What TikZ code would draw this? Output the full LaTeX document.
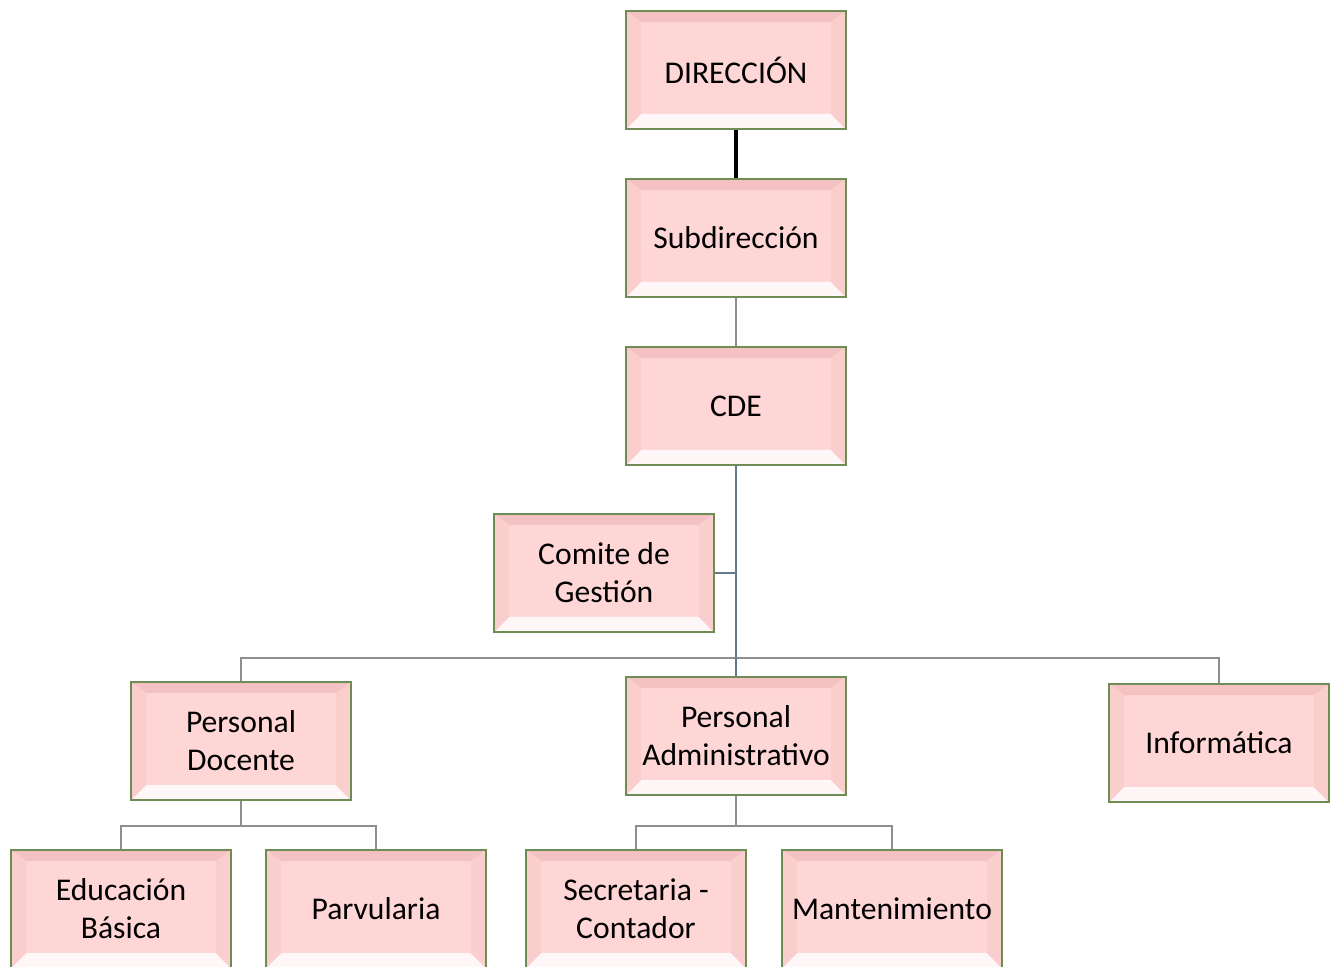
\documentclass[tikz,border=0pt]{standalone}
\usepackage{fontspec}
\setmainfont{Carlito}
\usepackage{xcolor}
\usepackage{tikz}

\definecolor{boxfill}{HTML}{FFD6D6}
\definecolor{boxtop}{HTML}{F4C2C2}
\definecolor{boxside}{HTML}{FBCECE}
\definecolor{boxbottom}{HTML}{FFF7F7}
\definecolor{boxline}{HTML}{6F8C55}
\definecolor{linkgray}{HTML}{8E8E8E}
\definecolor{linkblue}{HTML}{60798F}

\tikzset{
    orgbox/.style = {draw = boxline, line width = 1.1pt, fill = boxfill,
        minimum width = 4.4cm, minimum height = 2.36cm, align = center,
        font = \fontsize{18}{21.6}\selectfont, inner sep = 0pt,
        path picture = {
            % bevel edges
            \fill[boxtop] (path picture bounding box.north west)
                -- (path picture bounding box.north east)
                -- ([shift = {(-0.3cm, -0.22cm)}]path picture bounding box.north east)
                -- ([shift = {(0.3cm, -0.22cm)}]path picture bounding box.north west) -- cycle;
            \fill[boxbottom] (path picture bounding box.south west)
                -- (path picture bounding box.south east)
                -- ([shift = {(-0.3cm, 0.3cm)}]path picture bounding box.south east)
                -- ([shift = {(0.3cm, 0.3cm)}]path picture bounding box.south west) -- cycle;
            \fill[boxside] (path picture bounding box.north west)
                -- ([shift = {(0.3cm, -0.22cm)}]path picture bounding box.north west)
                -- ([shift = {(0.3cm, 0.3cm)}]path picture bounding box.south west)
                -- (path picture bounding box.south west) -- cycle;
            \fill[boxside] (path picture bounding box.north east)
                -- ([shift = {(-0.3cm, -0.22cm)}]path picture bounding box.north east)
                -- ([shift = {(-0.3cm, 0.3cm)}]path picture bounding box.south east)
                -- (path picture bounding box.south east) -- cycle;
        }},
    link/.style = {draw = linkgray, line width = 1.1pt}
}

\begin{document}
\begin{tikzpicture}[x = 0.02cm, y = -0.02cm]
        \useasboundingbox (0, 0) rectangle (1336, 967);
        \clip (0, 0) rectangle (1336, 967);

        \node[orgbox] (dir) at (736, 70) {DIRECCIÓN};
        \node[orgbox] (sub) at (736, 238) {Subdirección};
        \node[orgbox] (cde) at (736, 406) {CDE};
        \node[orgbox] (com) at (604, 573) {Comite de\\Gestión};

        \node[orgbox] (doc) at (241, 741) {Personal\\Docente};
        \node[orgbox] (adm) at (736, 736) {Personal\\Administrativo};
        \node[orgbox] (inf) at (1219, 743) {Informática};

        \node[orgbox] (edu) at (121, 909) {Educación\\Básica};
        \node[orgbox] (par) at (376, 909) {Parvularia};
        \node[orgbox] (sec) at (636, 909) {Secretaria -\\Contador};
        \node[orgbox] (man) at (892, 909) {Mantenimiento};

        \coordinate (bus) at (736, 658);
        \coordinate (docbus) at (241, 826);
        \coordinate (admbus) at (736, 826);

        \draw[line width = 2.8pt] (dir) -- (sub);
        \draw[link] (sub) -- (cde);
        \draw[link, draw = linkblue] (cde.south) -- (bus);
        \draw[link, draw = linkblue] (com.east) -- (com.east -| bus);
        \draw[link] (doc.north) |- (bus) -| (inf.north);
        \draw[link, draw = linkblue] (bus) -- (adm.north);

        \draw[link] (doc.south) -- (docbus);
        \draw[link] (edu.north) |- (docbus) -| (par.north);
        \draw[link] (adm.south) -- (admbus);
        \draw[link] (sec.north) |- (admbus) -| (man.north);
    \end{tikzpicture}
\end{document}
